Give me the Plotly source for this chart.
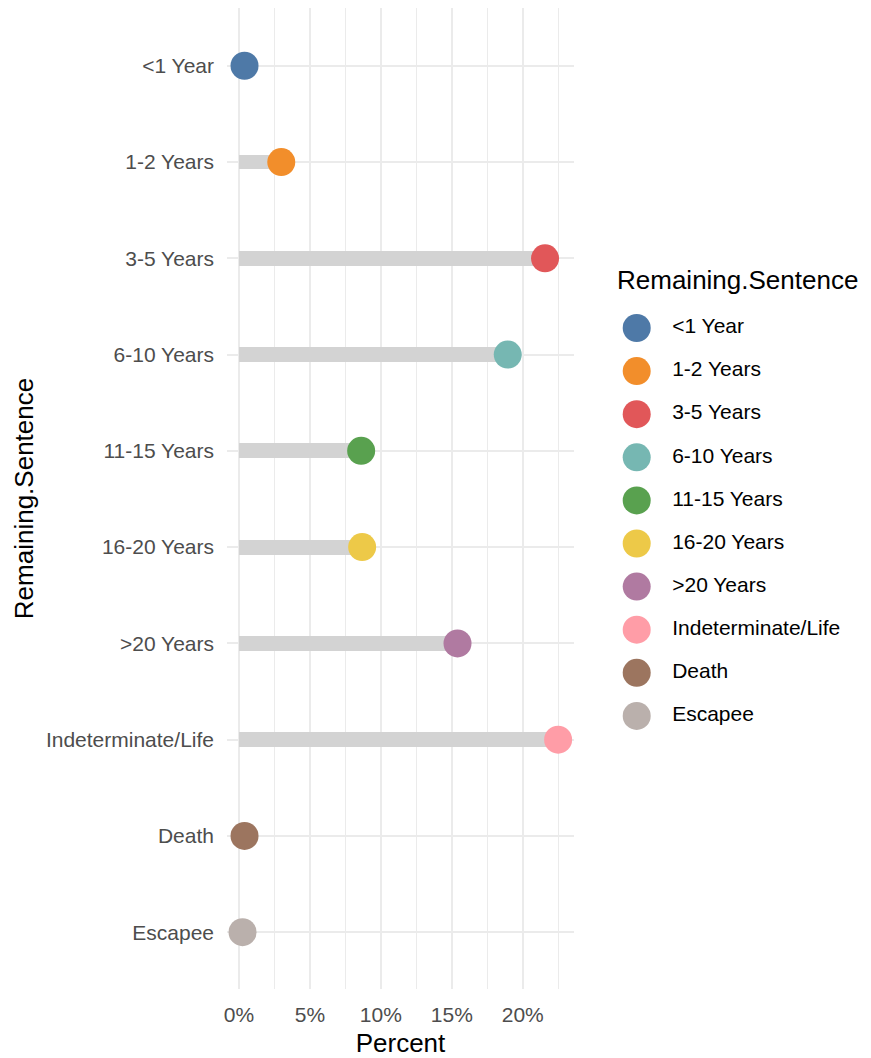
import plotly.graph_objects as go

# percent of people in each remaining-sentence group
categories = ['<1 Year', '1-2 Years', '3-5 Years', '6-10 Years', '11-15 Years',
              '16-20 Years', '>20 Years', 'Indeterminate/Life', 'Death', 'Escapee']
percent = [0.39, 2.98, 21.57, 18.94, 8.61, 8.68, 15.4, 22.49, 0.39, 0.25]
colors = ['#4E79A7', '#F28E2B', '#E15759', '#76B7B2', '#59A14F',
          '#EDC948', '#B07AA1', '#FF9DA7', '#9C755F', '#BAB0AC']
x_ticks = [0, 5, 10, 15, 20]
x_tick_text = ['%d%%' % v for v in x_ticks]

FONT = 'Arial, Liberation Sans, sans-serif'
# the page body has an 8px margin, so the figure is 8px smaller on each side
PAD = 8
W, H = 871 - PAD, 1058 - PAD
ML, MR, MT, MB = 227 - PAD, 5, 8 - PAD, 1058 - 989
pw, ph = W - ML - MR, H - MT - MB


def px_x(p):
    return (p - PAD - ML) / pw


def px_y(p):
    return (H - MB - (p - PAD)) / ph


fig = go.Figure()

# lollipop sticks
fig.add_trace(go.Bar(
    x=percent, y=categories, orientation='h', width=0.155,
    marker=dict(color='#D3D3D3', line=dict(width=0)),
    showlegend=False, hoverinfo='skip'))

# lollipop heads
fig.add_trace(go.Scatter(
    x=percent, y=categories, mode='markers',
    marker=dict(size=28, color=colors, line=dict(width=0)),
    showlegend=False))

# legend drawn on its own axes so the keys can be full size
fig.add_trace(go.Scatter(
    x=[636.7] * len(categories), y=categories, mode='markers',
    marker=dict(size=28, color=colors, line=dict(width=0)),
    xaxis='x2', yaxis='y2', showlegend=False, hoverinfo='skip'))
fig.add_trace(go.Scatter(
    x=[672.2] * len(categories), y=categories, mode='text', text=categories,
    textposition='middle right', textfont=dict(family=FONT, size=21, color='black'),
    xaxis='x2', yaxis='y2', showlegend=False, hoverinfo='skip'))

fig.update_layout(
    width=W, height=H,
    margin=dict(l=ML, r=MR, t=MT, b=MB, autoexpand=False),
    paper_bgcolor='white', plot_bgcolor='white',
    font=dict(family=FONT, size=21, color='#4D4D4D'),
    bargap=0,
    xaxis=dict(
        domain=[0, px_x(574)], range=[-0.845, 23.61], automargin=False,
        tickvals=x_ticks, ticktext=x_tick_text, ticks='',
        showgrid=True, gridcolor='#EBEBEB', gridwidth=1.6,
        minor=dict(dtick=2.5, tick0=0, showgrid=True, gridcolor='#EBEBEB', gridwidth=1.2),
        zeroline=False, showline=False,
        ticklabelstandoff=11,
        title=dict(text='Percent', font=dict(size=26, color='black'), standoff=8)),
    yaxis=dict(
        categoryorder='array', categoryarray=categories, automargin=False,
        range=[9.59, -0.6],
        showgrid=True, gridcolor='#EBEBEB', gridwidth=1.6,
        zeroline=False, showline=False, ticks='',
        ticklabelstandoff=12,
        title=dict(text='Remaining.Sentence', font=dict(size=26, color='black'), standoff=4)),
    xaxis2=dict(domain=[px_x(600), 1.0], range=[600, 600 + pw * (1 - px_x(600))],
                visible=False, anchor='y2', fixedrange=True),
    yaxis2=dict(domain=[px_y(742), px_y(242)], range=[9.605, -1.995],
                categoryorder='array', categoryarray=categories,
                visible=False, anchor='x2', fixedrange=True),
    annotations=[dict(
        text='Remaining.Sentence', xref='paper', yref='paper',
        x=px_x(615), y=px_y(280), xanchor='left', yanchor='middle',
        showarrow=False, font=dict(family=FONT, size=26, color='black'))],
)

fig.write_html("out.html")
